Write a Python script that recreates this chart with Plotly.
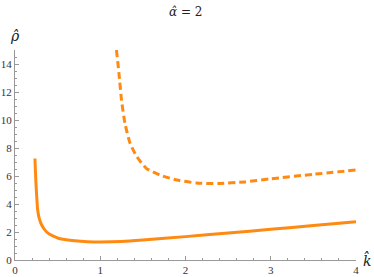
import plotly.graph_objects as go

k_solid = [0.234, 0.240, 0.246, 0.255, 0.266, 0.285, 0.313, 0.35, 0.39, 0.45, 0.508, 0.60, 0.70, 0.85, 1.0, 1.25, 1.5, 2.0, 2.5, 3.0, 3.5, 4.0]
rho_solid = [7.25, 6.3, 5.48, 4.5, 3.57, 2.95, 2.5, 2.15, 1.9, 1.7, 1.55, 1.44, 1.37, 1.31, 1.29, 1.32, 1.42, 1.67, 1.93, 2.19, 2.47, 2.74]

k_dash = [1.19, 1.22, 1.25, 1.29, 1.35, 1.43, 1.54, 1.70, 1.90, 2.13, 2.38, 2.7, 3.0, 3.5, 4.0]
rho_dash = [15.0, 13.3, 11.4, 9.76, 8.33, 7.38, 6.55, 6.07, 5.71, 5.50, 5.46, 5.58, 5.80, 6.12, 6.43]

x_ticks = [0, 1, 2, 3, 4]
y_ticks = [0, 2, 4, 6, 8, 10, 12, 14]

orange = "#ff8a12"
fig = go.Figure()
fig.add_trace(go.Scatter(x=k_solid, y=rho_solid, mode="lines", line=dict(color=orange, width=3, shape="spline", smoothing=0.6)))
fig.add_trace(go.Scatter(x=k_dash, y=rho_dash, mode="lines", line=dict(color=orange, width=3, dash="7px,4px", shape="spline", smoothing=0.6)))

axis_common = dict(showgrid=False, zeroline=False, showline=True, linecolor="#999999", linewidth=1,
                   ticks="inside", tickcolor="#999999", ticklen=4, tickwidth=1,
                   tickfont=dict(family="Liberation Serif", size=11, color="#333333"))
fig.update_layout(
    width=374, height=277, autosize=False,
    margin=dict(l=15, r=18, t=50, b=17),
    paper_bgcolor="white", plot_bgcolor="white",
    showlegend=False,
    xaxis=dict(range=[0, 4.0], tickvals=x_ticks, ticktext=[str(v) for v in x_ticks],
               minor=dict(dtick=0.2, ticks="inside", ticklen=2, tickcolor="#999999"), automargin=False, **axis_common),
    yaxis=dict(range=[0, 15], tickvals=y_ticks, ticktext=[str(v) for v in y_ticks],
               minor=dict(dtick=0.5, ticks="inside", ticklen=2, tickcolor="#999999"), automargin=False, **axis_common),
    annotations=[
        dict(text="<i>α̂</i> = 2", x=0.5, y=1, xref="paper", yref="paper", yshift=47, yanchor="top", xanchor="center",
             showarrow=False, font=dict(family="DejaVu Serif", size=12, color="#222222")),
        dict(text="<i>ρ̂</i>", x=0, y=15, xref="x", yref="y", xanchor="center", yanchor="bottom", yshift=4,
             showarrow=False, font=dict(family="DejaVu Serif", size=14, color="#222222")),
        dict(text="<i>k̂</i>", x=4, y=0, xref="x", yref="y", xanchor="left", yanchor="middle", xshift=5,
             showarrow=False, font=dict(family="DejaVu Serif", size=14, color="#222222")),
    ],
)
fig.write_html("out.html", config={"displayModeBar": False},
               post_script="document.body.style.margin='0';document.body.style.overflow='hidden';")
